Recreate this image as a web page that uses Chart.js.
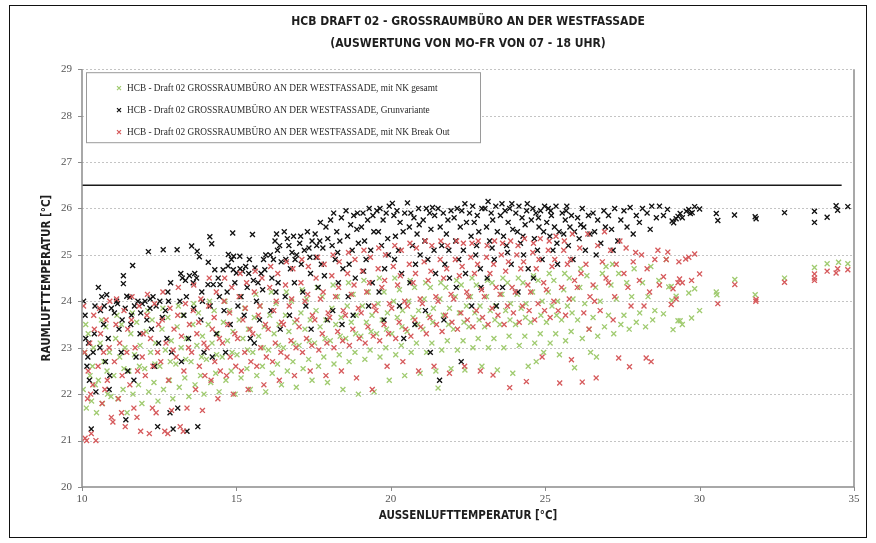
<!DOCTYPE html>
<html>
<head>
<meta charset="utf-8">
<script src="https://cdn.jsdelivr.net/npm/chart.js@4/dist/chart.umd.min.js"></script>
<style>
  html, body { margin: 0; padding: 0; background: #fff; }
  #wrap { width: 876px; height: 543px; }
</style>
</head>
<body>
<div id="wrap"><canvas id="chart" width="876" height="543"></canvas></div>
<script>
// chart text
var titleLines = ['HCB DRAFT 02 - GROSSRAUMBÜRO AN DER WESTFASSADE', '(AUSWERTUNG VON MO-FR VON 07 - 18 UHR)'];
var xTitle = 'AUSSENLUFTTEMPERATUR [°C]';
var yTitle = 'RAUMLUFTTEMPERATUR [°C]';
var seriesLabels = [
  'HCB - Draft 02 GROSSRAUMBÜRO AN DER WESTFASSADE, mit NK gesamt',
  'HCB - Draft 02 GROSSRAUMBÜRO AN DER WESTFASSADE, Grunvariante',
  'HCB - Draft 02 GROSSRAUMBÜRO AN DER WESTFASSADE, mit NK Break Out'
];
var seriesColors = ['#a0cb70', '#111111', '#d65a5c'];

// axis ticks
var xTicks = [10, 15, 20, 25, 30, 35];
var yTicks = [20, 21, 22, 23, 24, 25, 26, 27, 28, 29];

// limit line (26.5 °C)
var limitX = [10, 34.6];
var limitY = 26.5;

// [aussen, raum]
var greenPts = [
  [10.04,22.1],[10.09,22.9],[10.14,21.7],[10.2,23.3],[10.26,22.4],[10.31,21.85],[10.37,23.0],[10.43,22.2],[10.12,23.5],[10.34,22.6],[10.47,21.6],
  [10.53,22.3],[10.59,23.1],[10.66,21.8],[10.71,22.7],[10.77,23.45],[10.83,22.0],[10.89,22.9],[10.94,21.95],[10.63,23.6],[10.81,22.5],
  [11.03,22.4],[11.09,23.2],[11.16,21.9],[11.22,22.8],[11.28,23.5],[11.33,22.1],[11.39,23.0],[11.46,21.6],[11.13,23.7],[11.36,22.55],
  [11.52,22.5],[11.58,23.3],[11.65,22.0],[11.7,22.85],[11.77,23.55],[11.83,22.2],[11.88,23.05],[11.94,21.8],[11.63,23.75],[11.86,22.6],
  [12.03,22.55],[12.08,23.35],[12.16,22.05],[12.22,22.9],[12.27,23.6],[12.33,22.25],[12.38,23.1],[12.46,21.85],[12.13,23.8],[12.36,22.65],
  [12.52,22.6],[12.59,23.4],[12.64,22.1],[12.7,22.95],[12.78,23.65],[12.83,22.3],[12.89,23.15],[12.94,21.9],[12.62,23.85],[12.86,22.7],
  [13.04,22.65],[13.08,23.45],[13.15,22.15],[13.21,23.0],[13.27,23.7],[13.33,22.35],[13.38,23.2],[13.46,21.95],[13.12,23.9],[13.36,22.75],
  [13.53,22.7],[13.59,23.5],[13.66,22.2],[13.72,23.05],[13.77,23.75],[13.84,22.4],[13.9,23.25],[13.95,22.0],[13.62,23.95],[13.87,22.8],
  [14.03,22.75],[14.09,23.5],[14.17,22.25],[14.21,23.1],[14.28,23.8],[14.33,22.45],[14.39,23.3],[14.44,22.05],[14.13,24.0],[14.36,22.85],
  [14.54,22.8],[14.58,23.55],[14.66,22.3],[14.71,23.15],[14.78,23.8],[14.83,22.5],[14.89,23.35],[14.96,22.0],[14.63,24.0],[14.86,22.9],
  [15.02,22.85],[15.09,23.6],[15.15,22.35],[15.21,23.2],[15.27,23.85],[15.34,22.55],[15.39,23.4],[15.45,22.1],[15.12,24.1],[15.36,22.95],
  [15.53,22.9],[15.58,23.65],[15.66,22.4],[15.72,23.25],[15.77,23.9],[15.84,22.6],[15.9,23.45],[15.95,22.05],[15.63,24.15],[15.87,23.0],
  [16.04,22.95],[16.08,23.7],[16.16,22.45],[16.22,23.3],[16.28,23.95],[16.33,22.65],[16.38,23.5],[16.46,22.2],[16.13,24.2],[16.36,23.05],
  [16.52,23.0],[16.59,23.7],[16.65,22.5],[16.7,23.35],[16.78,24.0],[16.83,22.7],[16.89,23.55],[16.94,22.15],[16.62,24.2],[16.86,23.1],
  [17.03,23.05],[17.09,23.75],[17.16,22.55],[17.22,23.4],[17.27,24.05],[17.34,22.75],[17.39,23.6],[17.45,22.3],[17.13,24.25],[17.36,23.15],
  [17.53,23.1],[17.58,23.8],[17.66,22.6],[17.71,23.45],[17.78,24.1],[17.83,22.8],[17.9,23.6],[17.95,22.25],[17.62,24.3],[17.87,23.2],
  [18.04,23.15],[18.09,23.85],[18.16,22.65],[18.22,23.5],[18.27,24.1],[18.33,22.85],[18.39,23.65],[18.45,22.1],[18.13,24.35],[18.36,23.25],
  [18.54,23.2],[18.59,23.9],[18.65,22.7],[18.72,23.55],[18.78,24.15],[18.84,22.9],[18.88,23.7],[18.95,22.0],[18.63,24.4],[18.86,23.3],
  [19.03,23.25],[19.08,23.9],[19.16,22.75],[19.21,23.55],[19.27,24.2],[19.33,22.95],[19.39,23.7],[19.46,22.05],[19.13,24.45],[19.36,23.35],
  [19.54,23.3],[19.59,23.95],[19.65,22.8],[19.72,23.6],[19.78,24.2],[19.84,23.0],[19.89,23.75],[19.95,22.3],[19.63,24.5],[19.86,23.4],
  [20.03,23.3],[20.09,24.0],[20.16,22.85],[20.21,23.65],[20.28,24.25],[20.34,23.05],[20.38,23.8],[20.45,22.4],[20.13,24.5],[20.36,23.45],
  [20.53,23.35],[20.58,24.0],[20.66,22.9],[20.72,23.65],[20.77,24.3],[20.83,23.1],[20.9,23.8],[20.95,22.45],[20.63,24.45],[20.87,23.5],
  [21.04,23.4],[21.08,24.05],[21.16,22.9],[21.22,23.7],[21.28,24.3],[21.33,23.1],[21.38,23.85],[21.46,22.5],[21.13,24.4],[21.36,23.55],
  [21.53,22.13],[21.59,24.05],[21.65,22.95],[21.7,23.7],[21.78,24.3],[21.83,23.15],[21.9,23.85],[21.95,22.55],[21.62,24.4],[21.87,23.5],
  [22.03,23.4],[22.09,24.1],[22.16,22.95],[22.22,23.75],[22.28,24.35],[22.34,23.15],[22.4,22.52],[22.45,23.9],[22.13,24.45],[22.37,23.55],
  [22.53,23.45],[22.58,24.1],[22.66,23.0],[22.72,23.75],[22.77,24.35],[22.83,23.2],[22.89,23.9],[22.95,22.6],[22.63,24.5],[22.86,23.6],
  [23.04,23.45],[23.1,24.1],[23.16,23.0],[23.22,23.8],[23.28,24.4],[23.34,23.2],[23.39,23.9],[23.45,22.52],[23.13,24.45],[23.37,23.6],
  [23.53,23.5],[23.6,24.15],[23.66,23.0],[23.72,23.8],[23.78,24.4],[23.83,23.25],[23.88,23.95],[23.95,22.45],[23.63,24.5],[23.86,23.6],
  [24.04,23.5],[24.09,24.15],[24.16,23.05],[24.22,23.85],[24.28,24.4],[24.34,23.25],[24.38,23.95],[24.45,22.6],[24.13,24.5],[24.36,23.65],
  [24.53,23.55],[24.59,24.2],[24.66,23.1],[24.71,22.7],[24.77,24.45],[24.84,23.3],[24.9,24.0],[24.95,22.9],[24.62,24.55],[24.86,23.7],
  [25.04,23.55],[25.1,24.2],[25.16,23.1],[25.22,23.9],[25.28,24.45],[25.34,23.3],[25.4,24.0],[25.46,22.85],[25.13,24.6],[25.37,23.7],
  [25.53,23.6],[25.6,24.25],[25.66,23.15],[25.72,23.9],[25.78,24.5],[25.84,23.35],[25.9,24.05],[25.95,22.57],[25.63,24.6],[25.87,23.75],
  [26.05,23.6],[26.12,24.3],[26.2,23.2],[26.28,23.95],[26.35,24.55],[26.42,23.4],[26.47,22.9],[26.15,24.7],
  [26.55,23.65],[26.63,24.3],[26.7,23.25],[26.78,24.0],[26.85,24.6],[26.92,23.45],[26.66,22.8],[26.97,24.75],
  [27.05,23.7],[27.13,24.35],[27.22,23.3],[27.3,24.05],[27.38,24.6],[27.45,23.5],[27.18,24.8],
  [27.55,23.7],[27.64,24.4],[27.72,23.4],[27.8,24.1],[27.88,24.7],[27.95,23.55],
  [28.06,23.75],[28.15,24.4],[28.25,23.45],[28.33,24.1],[28.42,24.75],[28.48,23.6],
  [28.55,23.8],[28.68,24.45],[28.83,23.73],[28.92,24.9],[29.0,24.31],
  [29.08,24.32],[29.14,23.39],[29.1,24.02],[29.24,24.11],[29.3,23.58],[29.37,23.58],[29.44,23.5],[29.65,24.18],[29.74,23.64],[29.84,24.27],
  [30.0,23.8],[30.54,24.2],[30.56,24.14],[31.14,24.47],[31.8,24.14],[32.75,24.5],[33.72,24.73],[34.13,24.81],[34.5,24.84],[34.8,24.81]
];

var blackPts = [
  [10.05,24.0],[10.1,23.7],[10.16,22.6],[10.21,23.1],[10.24,22.3],[10.3,21.25],[10.36,22.9],[10.4,23.3],[10.45,22.05],[10.19,22.8],[10.12,23.2],[10.42,23.9],
  [10.53,24.3],[10.6,23.8],[10.64,24.1],[10.7,23.5],[10.76,22.7],[10.8,24.14],[10.85,23.2],[10.9,22.4],[10.95,23.85],[10.58,23.0],[10.72,23.9],[10.88,22.1],
  [11.05,23.75],[11.12,24.0],[11.2,23.4],[11.27,22.9],[11.34,24.55],[11.34,24.38],[11.4,23.85],[11.45,24.11],[11.48,22.5],[11.15,23.95],[11.3,23.6],[11.42,21.45],
  [11.55,24.09],[11.64,24.77],[11.6,23.7],[11.7,23.9],[11.75,22.8],[11.81,24.0],[11.88,23.3],[11.95,23.95],[11.68,22.3],[11.9,23.75],[11.58,23.5],
  [12.04,24.0],[12.15,25.07],[12.2,23.85],[12.25,23.4],[12.3,24.1],[12.35,22.6],[12.4,23.9],[12.45,21.3],[12.21,24.05],[12.1,23.6],[12.48,23.1],
  [12.52,24.0],[12.63,25.11],[12.7,23.8],[12.75,23.2],[12.8,24.0],[12.87,24.4],[12.9,22.9],[12.95,21.25],[12.6,23.65],[12.85,21.6],[12.78,24.2],
  [13.08,25.11],[13.17,24.0],[13.2,24.6],[13.25,24.5],[13.3,23.7],[13.35,24.45],[13.4,21.2],[13.45,23.2],[13.1,21.7],[13.38,24.1],[13.22,22.7],[13.48,24.55],
  [13.55,25.19],[13.6,24.4],[13.65,24.6],[13.71,24.5],[13.73,25.08],[13.8,24.96],[13.85,23.6],[13.9,24.0],[13.95,22.9],[13.62,23.85],[13.75,21.3],[13.88,24.2],
  [14.09,24.84],[14.08,24.36],[14.14,25.39],[14.2,25.24],[14.25,24.36],[14.3,24.68],[14.41,24.5],[14.47,24.36],[14.15,23.9],[14.35,23.3],[14.45,24.1],[14.22,22.8],
  [14.57,24.68],[14.73,24.76],[14.74,25.01],[14.84,24.9],[14.88,25.47],[14.9,24.68],[14.91,24.97],[14.6,23.8],[14.7,24.2],[14.8,23.5],[14.95,24.4],[14.65,22.9],
  [15.0,24.61],[15.11,24.97],[15.12,24.7],[15.2,24.65],[15.3,24.75],[15.4,24.6],[15.15,24.1],[15.25,23.7],[15.35,24.3],[15.45,23.2],[15.05,23.9],[15.42,24.9],
  [15.52,25.44],[15.55,24.45],[15.6,24.72],[15.7,24.4],[15.8,24.6],[15.92,24.68],[15.65,24.0],[15.75,23.6],[15.85,24.25],[15.95,25.0],[15.58,23.1],[15.88,24.9],
  [16.1,25.0],[16.15,24.5],[16.2,24.9],[16.25,25.3],[16.3,25.45],[16.35,24.4],[16.4,25.2],[16.45,24.85],[16.12,23.8],[16.28,24.2],[16.42,23.4],[16.33,25.1],
  [16.55,25.5],[16.6,24.9],[16.65,25.35],[16.7,25.2],[16.75,24.7],[16.8,25.05],[16.85,25.4],[16.9,24.9],[16.95,25.0],[16.58,24.1],[16.72,23.7],[16.88,24.4],
  [17.05,25.25],[17.1,24.8],[17.2,25.1],[17.3,25.5],[17.35,25.15],[17.4,24.6],[17.45,25.3],[17.15,24.2],[17.25,23.9],[17.38,24.95],[17.42,23.4],[17.08,25.4],
  [17.55,25.45],[17.6,25.2],[17.7,25.3],[17.75,24.8],[17.8,25.15],[17.9,25.6],[17.96,25.35],[17.65,24.3],[17.85,24.55],[17.95,23.6],[17.58,24.95],[17.72,25.7],
  [18.05,25.75],[18.1,25.2],[18.15,25.9],[18.2,24.9],[18.25,25.5],[18.3,24.4],[18.35,25.3],[18.4,25.8],[18.45,24.7],[18.12,23.8],[18.28,25.05],[18.42,23.5],
  [18.55,25.95],[18.6,25.4],[18.65,24.8],[18.7,25.65],[18.75,25.1],[18.8,25.85],[18.85,24.5],[18.9,25.55],[18.95,25.25],[18.62,24.1],[18.78,23.7],[18.92,25.9],
  [19.05,25.6],[19.1,25.9],[19.15,25.3],[19.2,24.9],[19.25,25.75],[19.3,26.0],[19.35,25.1],[19.4,24.4],[19.45,25.5],[19.12,24.65],[19.28,23.9],[19.42,25.85],
  [19.55,25.95],[19.6,25.5],[19.65,26.0],[19.7,25.2],[19.75,25.75],[19.8,24.7],[19.85,25.9],[19.9,25.35],[19.95,26.05],[19.62,24.2],[19.78,23.6],[19.92,25.0],
  [20.05,26.11],[20.1,25.85],[20.15,25.4],[20.2,25.95],[20.25,25.1],[20.3,25.7],[20.35,24.6],[20.4,25.5],[20.45,25.9],[20.12,24.9],[20.28,23.9],[20.42,23.2],
  [20.54,26.12],[20.6,25.6],[20.65,25.9],[20.7,25.2],[20.75,25.8],[20.8,24.8],[20.85,25.45],[20.9,26.0],[20.95,25.0],[20.62,24.4],[20.78,23.5],[20.92,25.65],
  [21.05,25.75],[21.1,25.3],[21.15,26.0],[21.2,24.9],[21.26,25.9],[21.3,25.55],[21.35,26.02],[21.4,25.1],[21.45,24.6],[21.12,23.8],[21.28,22.9],[21.42,25.85],
  [21.53,26.0],[21.6,25.6],[21.65,25.2],[21.7,25.9],[21.75,24.8],[21.8,25.45],[21.85,25.75],[21.9,24.5],[21.95,25.95],[21.58,22.3],[21.72,23.6],[21.88,25.1],
  [22.05,25.8],[22.1,25.3],[22.15,26.0],[22.2,24.9],[22.25,25.6],[22.3,25.95],[22.35,25.1],[22.4,26.1],[22.45,25.7],[22.12,24.3],[22.28,22.7],[22.42,24.6],
  [22.55,25.9],[22.6,25.4],[22.65,26.05],[22.7,25.7],[22.75,25.0],[22.8,25.85],[22.85,25.5],[22.9,24.7],[22.95,26.0],[22.62,23.9],[22.78,25.2],[22.92,24.3],
  [23.05,26.0],[23.1,25.6],[23.15,26.15],[23.2,25.3],[23.25,25.9],[23.3,25.75],[23.35,24.9],[23.4,26.05],[23.45,25.5],[23.12,24.5],[23.28,25.15],[23.42,23.9],
  [23.55,25.85],[23.6,26.1],[23.65,25.4],[23.7,25.95],[23.75,25.2],[23.8,25.7],[23.85,26.0],[23.9,24.8],[23.95,25.55],[23.62,24.3],[23.78,25.05],[23.92,26.1],
  [24.05,25.9],[24.1,25.5],[24.15,26.05],[24.2,25.25],[24.25,25.8],[24.3,25.0],[24.35,25.65],[24.4,25.95],[24.45,24.7],[24.12,24.2],[24.28,25.4],[24.42,26.1],
  [24.55,25.75],[24.6,26.0],[24.65,25.35],[24.7,25.9],[24.75,25.1],[24.8,25.6],[24.85,25.95],[24.9,24.9],[24.95,25.5],[24.62,24.5],[24.78,25.8],[24.98,26.05],
  [25.05,25.7],[25.1,26.0],[25.15,25.4],[25.2,25.85],[25.25,25.1],[25.3,25.6],[25.35,26.05],[25.4,24.8],[25.45,25.5],[25.18,25.95],[25.38,25.25],
  [25.55,25.9],[25.6,25.45],[25.65,25.75],[25.7,26.05],[25.75,25.2],[25.8,25.6],[25.85,25.85],[25.9,24.9],[25.95,25.5],[25.68,25.95],
  [26.05,25.8],[26.1,25.35],[26.2,26.0],[26.25,25.6],[26.3,25.1],[26.4,25.85],[26.45,25.45],[26.15,25.65],
  [26.55,25.9],[26.6,25.5],[26.7,25.75],[26.8,25.25],[26.9,25.95],[26.95,25.6],[26.65,25.0],
  [27.05,25.85],[27.15,25.55],[27.25,26.0],[27.35,25.3],[27.45,25.75],[27.2,25.1],
  [27.55,25.95],[27.65,25.6],[27.75,26.02],[27.85,25.45],[27.95,25.85],
  [28.05,25.7],[28.15,26.0],[28.3,25.9],[28.4,25.55],[28.45,26.05],
  [28.6,25.8],[28.7,26.05],[28.83,25.85],[28.96,25.98],
  [29.11,25.73],[29.16,25.69],[29.24,25.78],[29.3,25.83],[29.37,25.89],[29.44,25.8],[29.57,25.94],[29.65,25.98],[29.7,25.89],[29.76,25.91],[29.84,26.04],[30.0,25.99],
  [30.54,25.89],[30.59,25.74],[31.13,25.86],[31.8,25.82],[31.83,25.78],[32.75,25.91],[33.72,25.94],[33.72,25.7],[34.13,25.81],[34.42,26.06],[34.47,25.96],[34.8,26.04]
];

var redPts = [
  [10.05,23.9],[10.1,21.05],[10.15,21.0],[10.2,22.5],[10.25,23.1],[10.3,21.15],[10.35,22.2],[10.4,23.4],[10.45,21.0],[10.08,22.9],[10.28,22.0],[10.38,23.7],[10.18,21.9],
  [10.52,22.6],[10.6,23.3],[10.65,21.8],[10.7,22.9],[10.78,23.6],[10.82,22.3],[10.9,24.0],[10.95,21.5],[10.57,23.85],[10.74,22.1],[10.88,23.0],[11.0,21.4],
  [11.05,22.7],[11.1,23.5],[11.18,21.9],[11.22,23.1],[11.3,22.4],[11.36,23.8],[11.4,21.3],[11.45,22.9],[11.12,24.05],[11.28,21.6],[11.48,23.4],
  [11.55,22.2],[11.6,23.6],[11.68,21.7],[11.72,23.0],[11.8,22.5],[11.85,23.9],[11.9,21.2],[11.95,22.8],[11.62,24.1],[11.78,21.5],[11.98,23.3],
  [12.05,22.4],[12.1,23.7],[12.18,21.15],[12.22,23.2],[12.3,22.6],[12.35,23.95],[12.4,21.6],[12.45,22.9],[12.12,24.15],[12.28,21.7],[12.48,23.5],
  [12.55,22.7],[12.6,23.6],[12.68,21.2],[12.72,23.1],[12.8,22.3],[12.85,23.85],[12.9,21.65],[12.95,22.95],[12.62,24.2],[12.78,21.15],[12.98,23.4],
  [13.05,22.8],[13.1,23.7],[13.18,21.3],[13.22,23.25],[13.3,22.5],[13.35,23.95],[13.4,21.7],[13.45,23.0],[13.12,24.3],[13.28,21.2],[13.48,23.5],
  [13.55,22.9],[13.6,23.8],[13.68,22.1],[13.72,23.3],[13.8,22.6],[13.85,24.05],[13.9,21.65],[13.95,23.1],[13.62,24.35],[13.78,23.55],[13.98,22.4],
  [14.05,23.0],[14.1,23.9],[14.18,22.3],[14.22,23.4],[14.3,22.7],[14.35,24.2],[14.4,21.9],[14.45,23.2],[14.12,24.5],[14.28,23.65],[14.48,22.5],
  [14.55,23.1],[14.6,24.0],[14.68,22.4],[14.72,23.5],[14.8,22.8],[14.85,24.3],[14.9,22.0],[14.95,23.3],[14.62,24.5],[14.78,23.75],[14.98,22.6],
  [15.04,23.2],[15.09,24.1],[15.16,22.5],[15.21,23.6],[15.27,22.9],[15.33,24.4],[15.38,22.1],[15.44,23.4],[15.12,24.6],[15.29,23.85],[15.47,22.7],
  [15.53,23.3],[15.58,24.2],[15.66,22.6],[15.71,23.7],[15.79,23.0],[15.83,24.5],[15.89,22.2],[15.94,23.5],[15.61,24.65],[15.76,23.9],[15.97,22.8],
  [16.03,23.4],[16.08,24.3],[16.17,22.7],[16.21,23.8],[16.26,23.1],[16.34,24.6],[16.39,22.3],[16.46,23.55],[16.11,24.75],[16.29,24.0],[16.44,22.9],
  [16.52,23.5],[16.59,24.35],[16.64,22.8],[16.71,23.9],[16.77,23.15],[16.83,24.7],[16.88,22.4],[16.96,23.6],[16.62,24.85],[16.79,24.05],[16.93,23.0],
  [17.03,23.45],[17.09,24.4],[17.14,22.9],[17.22,24.0],[17.27,23.2],[17.33,24.75],[17.39,22.5],[17.46,23.7],[17.12,24.9],[17.31,24.15],[17.44,23.05],
  [17.54,23.6],[17.58,24.5],[17.67,22.95],[17.72,24.05],[17.78,23.3],[17.84,24.8],[17.9,22.4],[17.97,23.75],[17.63,24.95],[17.81,24.2],[17.93,23.1],
  [18.02,23.65],[18.09,24.55],[18.16,23.0],[18.21,24.1],[18.28,23.35],[18.33,24.85],[18.4,22.5],[18.46,23.8],[18.13,25.0],[18.31,24.3],[18.44,23.15],
  [18.53,23.7],[18.6,24.6],[18.66,23.05],[18.72,24.15],[18.77,23.4],[18.84,24.9],[18.89,22.35],[18.95,23.85],[18.63,25.05],[18.81,24.35],[18.98,23.2],
  [19.04,23.75],[19.08,24.65],[19.17,23.1],[19.22,24.2],[19.26,23.45],[19.34,24.95],[19.4,22.1],[19.46,23.9],[19.13,25.1],[19.31,24.4],[19.43,23.25],
  [19.52,23.8],[19.59,24.7],[19.64,23.15],[19.71,24.3],[19.78,23.5],[19.83,25.0],[19.88,22.6],[19.96,23.95],[19.61,25.15],[19.8,24.45],[19.93,23.3],
  [20.03,23.85],[20.08,24.75],[20.16,23.2],[20.22,24.35],[20.27,23.55],[20.34,25.1],[20.39,22.7],[20.45,24.0],[20.13,25.2],[20.31,24.55],[20.48,23.4],
  [20.54,23.9],[20.6,24.8],[20.65,23.25],[20.72,24.4],[20.78,23.6],[20.83,25.15],[20.9,22.5],[20.95,24.05],[20.62,25.25],[20.8,24.6],[20.97,23.45],
  [21.02,23.95],[21.08,24.85],[21.15,23.3],[21.21,24.45],[21.27,23.65],[21.33,25.2],[21.4,22.6],[21.46,24.1],[21.12,25.3],[21.3,24.65],[21.48,23.5],
  [21.53,24.0],[21.6,24.9],[21.66,23.35],[21.71,24.5],[21.77,23.7],[21.84,25.2],[21.9,22.45],[21.95,24.15],[21.62,25.3],[21.81,24.7],[21.98,23.55],
  [22.04,24.05],[22.09,24.9],[22.16,23.4],[22.22,24.55],[22.27,23.75],[22.35,25.25],[22.39,22.6],[22.46,24.2],[22.13,25.3],[22.31,24.75],[22.48,23.6],
  [22.52,24.1],[22.59,24.95],[22.66,23.45],[22.71,24.6],[22.77,23.8],[22.83,25.3],[22.9,22.5],[22.94,24.25],[22.63,25.25],[22.81,24.8],[22.97,23.65],
  [23.03,24.1],[23.1,24.95],[23.15,23.5],[23.21,24.6],[23.28,23.85],[23.31,22.41],[23.36,25.3],[23.41,24.3],[23.47,23.7],[23.12,25.2],[23.33,24.8],
  [23.54,24.15],[23.58,25.0],[23.67,23.5],[23.72,24.65],[23.78,23.9],[23.85,22.14],[23.88,25.3],[23.93,24.3],[23.62,25.25],[23.81,24.85],[23.97,23.75],
  [24.03,24.2],[24.08,25.0],[24.16,23.55],[24.21,24.7],[24.26,23.9],[24.33,25.35],[24.39,22.27],[24.44,24.35],[24.12,25.2],[24.3,24.85],[24.48,23.8],
  [24.53,24.2],[24.6,25.05],[24.66,23.6],[24.71,24.7],[24.77,23.95],[24.84,25.35],[24.9,22.8],[24.95,24.4],[24.62,25.25],[24.8,24.9],[24.98,23.8],
  [25.04,24.25],[25.1,25.1],[25.16,23.65],[25.22,24.75],[25.28,24.0],[25.35,25.4],[25.42,23.8],[25.47,22.24],[25.13,25.3],[25.31,24.9],
  [25.53,24.3],[25.6,25.1],[25.66,23.7],[25.72,24.8],[25.78,24.05],[25.85,22.74],[25.88,25.45],[25.95,24.45],[25.62,25.3],[25.82,24.9],
  [26.04,24.3],[26.12,25.15],[26.2,22.26],[26.25,23.75],[26.32,24.8],[26.38,25.45],[26.45,24.1],[26.16,24.6],[26.42,23.4],
  [26.55,24.35],[26.65,22.35],[26.7,25.2],[26.78,23.8],[26.85,24.85],[26.92,25.5],[26.6,24.0],[26.97,24.5],
  [27.05,24.4],[27.12,25.1],[27.2,23.6],[27.3,24.8],[27.38,22.78],[27.42,25.3],[27.25,24.1],
  [27.55,24.6],[27.62,25.15],[27.73,22.59],[27.78,23.9],[27.85,24.85],[27.93,25.05],[27.68,24.3],
  [28.05,24.45],[28.12,25.0],[28.27,22.78],[28.3,24.7],[28.43,22.7],[28.38,24.2],[28.2,23.9],
  [28.55,24.9],[28.7,24.35],[28.83,24.53],[28.92,24.9],[28.97,25.06],[28.65,25.1],
  [29.08,23.93],[29.14,24.27],[29.24,24.05],[29.3,24.4],[29.33,24.85],[29.35,24.48],[29.44,24.4],[29.55,24.91],[29.65,24.95],[29.74,24.45],[29.84,25.02],[30.0,24.59],
  [30.59,23.95],[31.14,24.36],[31.83,24.04],[31.82,24.0],[32.75,24.41],[33.72,24.59],[33.72,24.5],[33.72,24.45],[34.13,24.65],[34.47,24.7],[34.42,24.61],[34.8,24.68]
];

function toXY(pts) {
  return pts.map(function (p) { return { x: p[0], y: p[1] }; });
}

var condensed = "'DejaVu Sans Condensed', 'Liberation Sans Narrow', 'Roboto Condensed', 'DejaVu Sans', sans-serif";
var serif = "'Liberation Serif', 'DejaVu Serif', serif";

function dottedRows(chart, from, to) {
  var ctx = chart.ctx;
  var a = chart.chartArea;
  var ys = chart.scales.y;
  ctx.save();
  ctx.strokeStyle = '#c4c4c4';
  ctx.lineWidth = 1;
  ctx.setLineDash([2, 2]);
  ctx.beginPath();
  yTicks.forEach(function (v) {
    if (v === yTicks[0] || v < from || v > to) return;
    var py = Math.round(ys.getPixelForValue(v)) + 0.5;
    ctx.moveTo(a.left, py);
    ctx.lineTo(a.right, py);
  });
  ctx.stroke();
  ctx.restore();
}

// clean plot background and dotted horizontal grid, under the marks
var gridLines = {
  id: 'gridLines',
  beforeDatasetsDraw: function (chart) {
    var a = chart.chartArea;
    chart.ctx.save();
    chart.ctx.fillStyle = '#fff';
    chart.ctx.fillRect(a.left, a.top - 1, a.right - a.left, a.bottom - a.top + 2);
    chart.ctx.restore();
    dottedRows(chart, yTicks[0], yTicks[yTicks.length - 1]);
  }
};

// frame round the whole chart, solid plot edges, tick marks, boxed legend
var extras = {
  id: 'extras',
  afterDraw: function (chart) {
    var ctx = chart.ctx;
    var a = chart.chartArea;
    var xs = chart.scales.x;
    var ys = chart.scales.y;

    // empty band above the limit line: repaint it plain
    var bandBottom = Math.round(ys.getPixelForValue(limitY)) - 3;
    ctx.save();
    ctx.fillStyle = '#fff';
    ctx.fillRect(a.left + 1, a.top - 1, a.right - a.left - 2, bandBottom - a.top + 1);
    ctx.restore();
    dottedRows(chart, limitY, yTicks[yTicks.length - 1]);

    ctx.save();
    ctx.setLineDash([]);
    ctx.strokeStyle = '#8c8c8c';
    ctx.lineWidth = 1.5;
    ctx.beginPath();
    ctx.moveTo(a.left, a.top);
    ctx.lineTo(a.left, a.bottom);
    ctx.moveTo(a.right, a.top);
    ctx.lineTo(a.right, a.bottom);
    ctx.moveTo(a.left, a.bottom);
    ctx.lineTo(a.right, a.bottom);
    ctx.stroke();
    ctx.lineWidth = 1;
    ctx.beginPath();
    xTicks.forEach(function (v) {
      var px = Math.round(xs.getPixelForValue(v)) + 0.5;
      ctx.moveTo(px, a.bottom);
      ctx.lineTo(px, a.bottom + 4);
    });
    yTicks.forEach(function (v) {
      var py = Math.round(ys.getPixelForValue(v)) + 0.5;
      ctx.moveTo(a.left - 4, py);
      ctx.lineTo(a.left, py);
    });
    ctx.stroke();

    ctx.strokeStyle = '#111';
    ctx.lineWidth = 1;
    ctx.strokeRect(9.5, 5.5, 857, 532);

    // legend
    var bx = a.left + 4, by = a.top + 3, bw = 394, bh = 70;
    ctx.fillStyle = '#fff';
    ctx.fillRect(bx, by, bw, bh);
    ctx.strokeStyle = '#9a9a9a';
    ctx.strokeRect(bx + 0.5, by + 0.5, bw, bh);
    ctx.font = '9.3px ' + serif;
    ctx.textBaseline = 'middle';
    [0, 1, 2].forEach(function (i, k) {
      var ds = chart.data.datasets[i];
      var cy = by + 16 + k * 22;
      var cx = bx + 33;
      ctx.strokeStyle = ds.borderColor;
      ctx.lineWidth = 1.2;
      ctx.beginPath();
      ctx.moveTo(cx - 2, cy - 2); ctx.lineTo(cx + 2, cy + 2);
      ctx.moveTo(cx - 2, cy + 2); ctx.lineTo(cx + 2, cy - 2);
      ctx.stroke();
      ctx.fillStyle = '#2a2a2a';
      ctx.fillText(ds.label, cx + 8, cy);
    });
    ctx.restore();
  }
};

function scatterSet(label, pts, color, order) {
  return {
    type: 'scatter',
    label: label,
    data: toXY(pts),
    borderColor: color,
    backgroundColor: color,
    pointStyle: 'crossRot',
    pointRadius: 3.5,
    pointBorderWidth: 1.35,
    pointHoverRadius: 3.5,
    order: order
  };
}

var hidden = 'rgba(0,0,0,0)';

var ctx = document.getElementById('chart').getContext('2d');
var chart = new Chart(ctx, {
  type: 'scatter',
  data: {
    datasets: [
      scatterSet(seriesLabels[0], greenPts, seriesColors[0], 3),
      scatterSet(seriesLabels[1], blackPts, seriesColors[1], 2),
      scatterSet(seriesLabels[2], redPts, seriesColors[2], 1),
      {
        type: 'line',
        label: 'Grenzwert',
        data: [{ x: limitX[0], y: limitY }, { x: limitX[1], y: limitY }],
        borderColor: '#1a1a1a',
        borderWidth: 1.5,
        pointRadius: 0,
        showLine: true,
        order: 0
      }
    ]
  },
  options: {
    responsive: false,
    animation: false,
    events: [],
    layout: { padding: { left: 0, right: 22, top: 0, bottom: 0 } },
    plugins: {
      legend: { display: false },
      tooltip: { enabled: false },
      title: {
        display: true,
        fullSize: false,
        text: titleLines,
        color: '#1e1e1e',
        font: { family: condensed, size: 12, weight: 'bold', lineHeight: 1.8 },
        padding: { top: 11, bottom: 15 }
      }
    },
    scales: {
      x: {
        type: 'linear',
        min: xTicks[0],
        max: xTicks[xTicks.length - 1],
        afterBuildTicks: function (s) { s.ticks = xTicks.map(function (v) { return { value: v }; }); },
        afterFit: function (s) { s.height = 56; },
        grid: { display: true, drawOnChartArea: false, tickLength: 4, color: hidden, tickColor: hidden },
        border: { display: false },
        ticks: { color: '#555', padding: 2, font: { family: serif, size: 11 } },
        title: {
          display: true,
          text: xTitle,
          color: '#1e1e1e',
          font: { family: condensed, size: 11.5, weight: 'bold' },
          padding: { top: 0, bottom: 20 }
        }
      },
      y: {
        type: 'linear',
        min: yTicks[0],
        max: yTicks[yTicks.length - 1],
        afterBuildTicks: function (s) { s.ticks = yTicks.map(function (v) { return { value: v }; }); },
        afterFit: function (s) { s.width = 82; },
        grid: { display: true, drawOnChartArea: false, tickLength: 4, color: hidden, tickColor: hidden },
        border: { display: false },
        ticks: { color: '#555', padding: 6, font: { family: serif, size: 11 } },
        title: {
          display: true,
          text: yTitle,
          color: '#1e1e1e',
          font: { family: condensed, size: 11.5, weight: 'bold' },
          padding: { top: 40, bottom: 0 }
        }
      }
    }
  },
  plugins: [gridLines, extras]
});
</script>
</body>
</html>
